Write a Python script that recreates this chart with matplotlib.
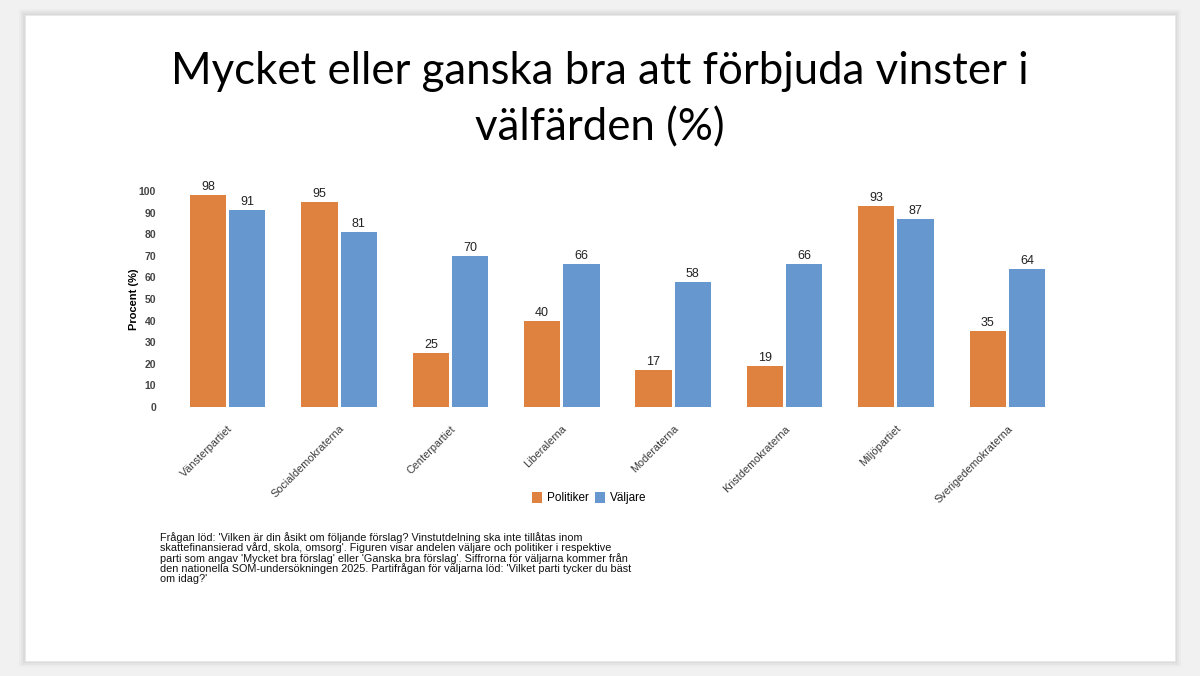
import matplotlib.pyplot as plt
import numpy as np
from matplotlib.patches import Rectangle

parties = ['Vänsterpartiet', 'Socialdemokraterna', 'Centerpartiet', 'Liberalerna',
           'Moderaterna', 'Kristdemokraterna', 'Miljöpartiet', 'Sverigedemokraterna']
politiker = [98, 95, 25, 40, 17, 19, 93, 35]
valjare = [91, 81, 70, 66, 58, 66, 87, 64]

title = 'Mycket eller ganska bra att förbjuda vinster i\nvälfärden (%)'
note = ("Frågan löd: 'Vilken är din åsikt om följande förslag? Vinstutdelning ska inte tillåtas inom\n"
        "skattefinansierad vård, skola, omsorg'. Figuren visar andelen väljare och politiker i respektive\n"
        "parti som angav 'Mycket bra förslag' eller 'Ganska bra förslag'. Siffrorna för väljarna kommer från\n"
        "den nationella SOM-undersökningen 2025. Partifrågan för väljarna löd: 'Vilket parti tycker du bäst\n"
        "om idag?'")

orange = '#E0823F'
blue = '#6797CF'

W, H = 1200, 676
fig = plt.figure(figsize=(W / 100, H / 100), dpi=100)
fig.patch.set_facecolor('#f1f1f1')

# slide with soft shadow
for i, a in enumerate([0.02, 0.03, 0.04]):
    d = (3 - i) * 2
    fig.patches.append(Rectangle(((25 - d) / W, (676 - 661 - d) / H), (1150 + 2 * d) / W,
                                 (646 + 2 * d) / H, transform=fig.transFigure,
                                 facecolor='black', alpha=a, edgecolor='none', zorder=-3))
fig.patches.append(Rectangle((25 / W, (676 - 661) / H), 1150 / W, 646 / H,
                             transform=fig.transFigure, facecolor='white',
                             edgecolor='#e8e8e8', lw=0.6, zorder=-2))

fig.text(600 / W, 1 - 100 / H, title, ha='center', va='center', fontsize=31.5,
         family='Lato', linespacing=1.45)

left, right, bottom, top = 172, 1063, 407, 191
ax = fig.add_axes([left / W, 1 - bottom / H, (right - left) / W, (bottom - top) / H])
ax.set_facecolor('none')

x = np.arange(len(parties))
bw = 0.325
b1 = ax.bar(x - bw / 2 - 0.014, politiker, bw, color=orange, label='Politiker')
b2 = ax.bar(x + bw / 2 + 0.014, valjare, bw, color=blue, label='Väljare')
ax.bar_label(b1, padding=1.5, fontsize=9, family='Liberation Sans', color='#222222')
ax.bar_label(b2, padding=1.5, fontsize=9, family='Liberation Sans', color='#222222')

ax.set_xlim(-0.5, len(parties) - 0.5)
ax.set_ylim(0, 100)
ax.set_yticks(range(0, 101, 10))
ax.tick_params(axis='y', length=0, pad=11.5, labelsize=7.5, labelcolor='#444444')
for t in ax.get_yticklabels():
    t.set_fontweight('bold')
    t.set_family('Liberation Sans')
ax.set_xticks(x)
ax.set_xticklabels(parties, rotation=45, ha='right', rotation_mode='anchor',
                   fontsize=7.8, family='Liberation Sans', color='#3a3a3a')
ax.tick_params(axis='x', length=0, pad=12)
for s in ax.spines.values():
    s.set_visible(False)
ax.set_ylabel('Procent (%)', fontsize=8, fontweight='bold', family='Liberation Sans',
              labelpad=0)

fig.legend(handles=[b1, b2], loc='center', bbox_to_anchor=(589 / W, 1 - 498 / H), ncol=2,
           frameon=False, prop={'family': 'Liberation Sans', 'size': 8.5},
           handlelength=0.9, handleheight=1.1, handletextpad=0.4, columnspacing=0.5)

fig.text(160 / W, 1 - 532 / H, note, ha='left', va='top', fontsize=7.8,
         family='Liberation Sans', linespacing=0.95, color='#111111')

fig.savefig('out.png', dpi=100, facecolor=fig.get_facecolor())
